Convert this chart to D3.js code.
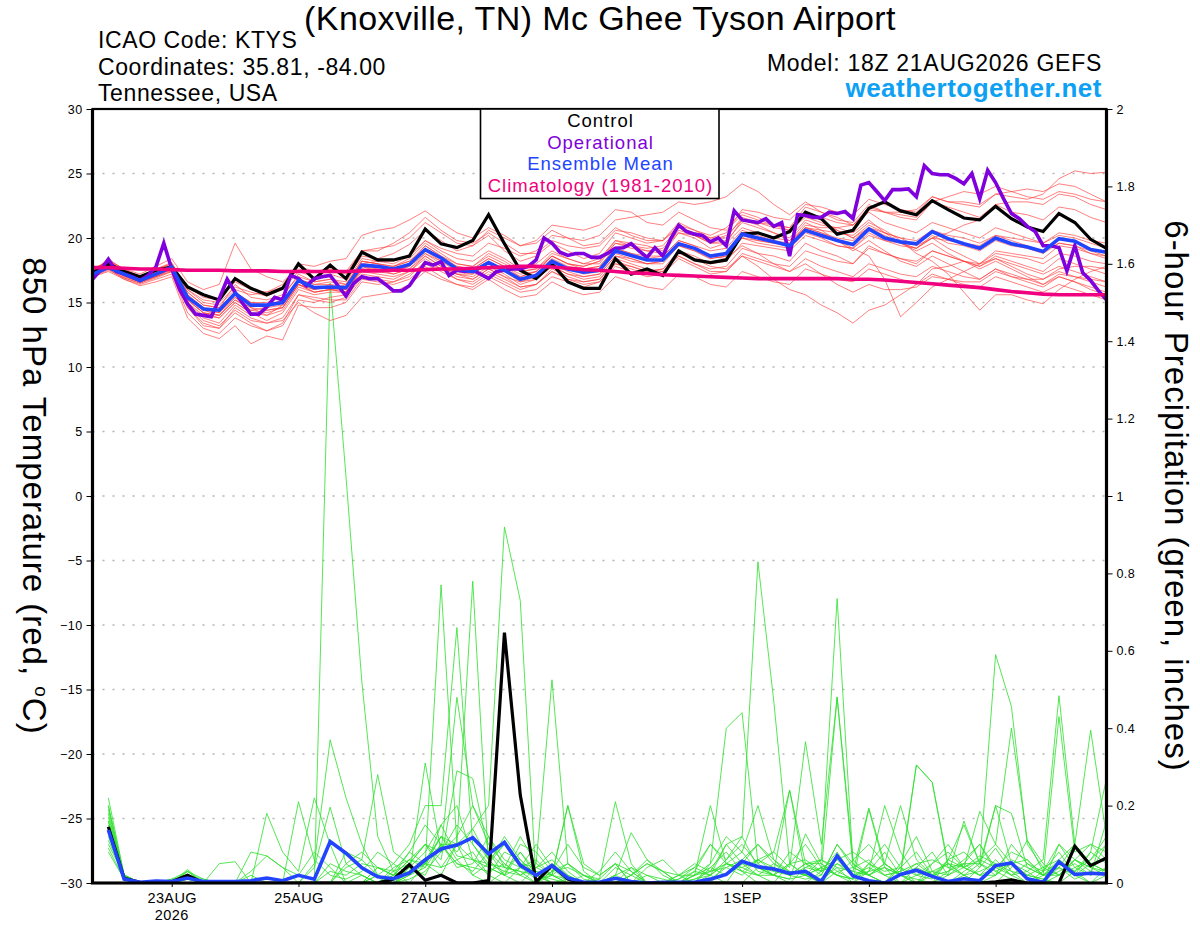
<!DOCTYPE html>
<meta charset="utf-8">
<body style="margin:0; background:#fff;">
<script src="https://d3js.org/d3.v7.min.js"></script>
<div id="meteogram"></div>
<script>
// run start (18Z 21AUG2026), data every 6 h, operational every 3 h
const runStart = Date.UTC(2026, 7, 21, 18);
const tickDays = ["2026-08-23", "2026-08-25", "2026-08-27", "2026-08-29", "2026-09-01", "2026-09-03", "2026-09-05"];
const tickLabels = ["23AUG", "25AUG", "27AUG", "29AUG", "1SEP", "3SEP", "5SEP"];
const tempTicks = [-30, -25, -20, -15, -10, -5, 0, 5, 10, 15, 20, 25, 30];
const precipTicks = [0, 0.2, 0.4, 0.6, 0.8, 1, 1.2, 1.4, 1.6, 1.8, 2];

// 850 hPa temperature (C)
const control = [
  17.3,18.0,17.4,17.0,17.5,17.75,16.2,15.6,15.2,16.85,
  16.1,15.6,16.1,18.0,16.8,17.9,16.85,18.9,18.3,18.3,
  18.6,20.7,19.55,19.25,19.8,21.8,19.56,17.5,16.85,18.0,
  16.6,16.1,16.1,18.4,17.2,17.6,17.1,19.0,18.3,18.1,
  18.3,20.3,20.4,20.0,20.5,22.0,21.5,20.3,20.6,22.3,
  22.8,22.1,21.8,22.9,22.2,21.55,21.4,22.45,21.5,20.85,
  20.5,21.9,21.2,19.9,19.2];
const ensMean = [
  17.2,17.7,17.2,16.7,17.2,17.75,15.4,14.5,14.4,15.7,
  14.8,14.8,15.0,16.7,16.15,16.2,16.15,17.9,17.8,17.6,
  17.95,19.1,18.45,17.6,17.4,18.1,17.5,16.8,17.1,18.2,
  17.6,17.35,17.5,19.0,18.65,18.3,18.3,19.56,19.2,18.6,
  18.8,20.3,20.0,19.7,19.4,20.6,20.2,19.8,19.5,20.7,
  20.0,19.7,19.55,20.5,19.95,19.55,19.2,20.0,19.55,19.3,
  18.95,19.95,19.75,19.1,18.9];
const climatology = [
  17.7,17.7,17.65,17.6,17.6,17.55,17.5,17.5,17.5,17.45,
  17.45,17.45,17.4,17.4,17.4,17.4,17.4,17.45,17.45,17.5,
  17.5,17.55,17.6,17.6,17.65,17.7,17.75,17.8,17.8,17.75,
  17.65,17.55,17.5,17.4,17.3,17.25,17.15,17.1,17.05,17.0,
  16.95,16.9,16.85,16.85,16.85,16.85,16.85,16.85,16.8,16.8,
  16.75,16.65,16.55,16.45,16.35,16.25,16.15,16.0,15.85,15.75,
  15.65,15.6,15.6,15.6,15.6];
const operational = [
  16.8,17.5,18.35,17.4,17.2,17.0,16.7,17.1,17.75,19.6,
  17.6,16.0,14.9,14.1,14.0,13.9,15.3,16.8,15.8,14.9,
  14.1,14.1,14.65,15.4,15.2,17.1,16.85,16.3,16.85,17.0,
  17.1,16.3,15.5,16.5,17.0,16.85,16.85,16.4,15.9,15.9,
  16.3,17.2,18.1,17.9,18.15,17.1,17.5,17.4,17.5,17.2,
  16.85,17.4,17.5,17.6,17.6,17.8,18.3,20.0,19.6,18.9,
  18.65,18.8,18.8,18.5,18.5,18.8,19.2,19.25,19.56,19.0,
  18.5,19.25,18.6,19.95,21.0,20.5,20.3,20.2,19.7,20.0,
  19.4,22.1,21.4,21.3,21.2,21.5,20.9,21.2,18.6,21.8,
  21.75,21.6,21.6,22.0,21.9,22.05,21.5,24.1,24.3,23.6,
  22.9,23.75,23.75,23.8,23.2,25.6,25.0,24.9,24.9,24.6,
  24.2,25.0,23.05,25.25,24.3,23.05,21.9,21.5,20.9,20.5,
  19.4,19.4,19.25,17.45,19.4,17.3,16.7,15.9,15.2];

// ensemble members, 850 hPa temperature
const t01 = [17.5,18.2,17.4,16.9,17.6,18.0,16.0,15.2,15.0,16.2, 15.8,15.5,16.0,17.4,17.0,17.2,16.8,18.6,18.4,18.8, 19.5,20.6,19.8,19.0,19.4,20.2,19.0,18.2,18.6,19.6, 19.0,18.4,18.8,20.4,20.0,19.6,19.8,21.2,20.6,20.2, 20.8,22.0,21.6,21.0,20.8,22.4,22.0,21.4,21.2,22.6, 22.0,21.6,21.4,22.8,22.4,22.0,21.6,22.6,22.0,21.8, 21.4,22.4,22.2,21.6,21.2];
const t02 = [17.0,17.6,16.8,16.4,16.8,17.2,14.2,13.0,12.6,13.8, 13.2,12.8,13.4,15.6,15.2,15.0,15.4,17.0,16.8,16.6, 17.2,18.0,17.4,16.8,16.4,17.2,16.6,16.0,16.4,17.4, 16.8,16.6,16.8,18.2,17.8,17.4,17.6,18.6,18.0,17.6, 17.8,19.2,18.8,18.6,18.2,19.6,19.0,18.6,18.0,19.4, 18.8,18.4,18.0,19.0,18.6,18.2,17.8,18.6,18.2,17.8, 17.4,18.4,18.0,17.6,17.2];
const t03 = [17.2,17.8,17.0,16.6,17.0,17.6,15.0,13.8,13.4,14.8, 14.0,14.4,14.6,16.4,16.0,16.4,15.8,17.8,17.4,17.8, 18.4,19.6,18.8,18.0,17.8,18.8,18.2,17.4,17.6,18.8, 18.4,18.0,18.0,19.6,19.4,19.0,18.8,20.4,20.0,19.2, 19.6,21.4,21.0,20.4,19.8,21.2,20.6,19.8,19.0,19.8, 19.0,18.2,17.8,18.6,18.0,17.4,16.8,17.6,17.0,16.6, 16.2,17.0,16.6,16.0,15.6];
const t04 = [17.4,18.0,17.3,16.8,17.3,17.9,15.6,14.6,14.2,15.4, 14.6,14.0,14.8,16.6,16.2,16.0,16.4,18.2,18.0,17.6, 18.0,19.4,18.6,17.8,17.6,18.4,17.8,17.0,17.4,18.6, 18.0,17.8,18.2,19.8,19.4,19.2,19.4,20.8,20.4,20.0, 20.4,22.2,22.0,21.6,21.4,22.6,22.4,22.0,21.8,23.0, 22.6,22.2,22.0,23.2,22.8,22.6,22.4,23.4,23.2,23.0, 23.4,24.6,25.2,25.0,25.1];
const t05 = [17.1,17.7,17.1,16.6,17.1,17.6,15.2,14.2,14.0,15.2, 14.4,14.6,14.8,16.4,15.8,16.0,15.8,17.6,17.6,17.2, 17.6,18.8,18.0,17.2,17.0,17.8,17.2,16.4,16.8,17.8, 17.2,16.8,17.0,18.4,18.0,17.6,17.4,18.8,18.4,17.8, 17.6,18.6,17.8,16.8,16.0,15.6,14.8,14.2,13.4,14.4, 14.8,15.6,16.4,17.6,17.8,18.2,18.0,18.8,18.6,18.4, 18.0,18.8,18.6,18.2,18.0];
const t06 = [17.3,18.4,17.5,17.0,17.4,17.8,15.8,14.8,14.6,16.4, 15.4,15.2,15.6,17.0,16.6,16.8,16.6,18.4,18.2,18.2, 18.6,19.8,19.0,18.4,18.2,19.0,18.4,17.6,18.0,19.0, 18.4,18.0,18.4,19.8,19.6,19.4,19.0,20.6,20.2,19.6, 19.8,21.2,20.8,20.4,20.0,21.4,21.0,20.8,20.4,21.4, 20.4,19.6,19.0,19.6,18.8,18.2,17.6,18.2,17.6,17.0, 16.4,17.0,16.6,16.2,15.8];
const t07 = [17.0,17.4,16.8,16.3,16.6,17.0,13.8,12.6,12.2,13.2, 11.8,12.4,12.1,14.8,14.6,14.6,15.0,16.6,16.4,16.6, 17.0,18.2,17.6,17.2,16.8,17.6,17.0,16.6,16.8,17.8, 17.2,17.0,17.2,18.6,18.4,18.0,18.0,19.4,19.0,18.4, 18.6,20.0,19.6,19.4,19.2,20.4,20.0,19.4,19.2,20.4, 19.8,19.6,19.2,20.2,19.6,19.4,19.0,19.8,19.4,19.2, 18.8,19.6,19.4,18.8,18.6];
const t08 = [17.6,18.2,17.6,17.2,17.8,18.4,16.6,16.0,16.4,19.6, 17.6,17.0,16.6,17.8,17.4,17.6,17.2,19.0,19.0,19.6, 20.4,21.6,20.6,19.8,19.6,20.4,19.6,18.8,18.8,19.8, 19.4,19.2,19.4,20.6,20.4,20.0,19.8,21.0,20.6,20.0, 20.0,21.6,21.2,20.8,20.6,21.8,21.4,20.6,20.0,21.0, 20.4,20.0,19.4,20.0,19.2,18.6,18.0,18.4,17.8,17.2, 16.8,17.4,17.0,16.8,16.6];
const t09 = [17.2,17.9,17.2,16.8,17.2,17.7,15.4,14.4,14.2,15.6, 14.8,14.6,15.2,16.8,16.4,16.4,16.2,18.0,18.2,18.0, 18.6,19.8,19.2,18.8,18.6,19.6,19.2,18.6,19.0,20.2, 20.0,19.8,20.2,21.4,21.6,21.8,22.0,22.8,22.6,22.8, 23.2,24.2,23.6,22.6,21.8,22.8,22.0,21.6,21.0,22.0, 21.2,20.8,20.4,21.2,20.8,20.4,20.0,20.8,20.4,20.0, 19.6,20.2,20.0,19.6,19.2];
const t10 = [17.1,17.6,16.9,16.5,16.9,17.4,14.8,13.6,13.2,14.4, 13.6,13.4,13.8,15.6,15.4,15.2,15.2,16.8,16.6,16.4, 16.8,17.8,17.0,16.4,16.0,16.8,16.0,15.4,15.6,16.6, 16.0,15.6,15.8,17.0,16.6,16.2,16.0,17.2,17.0,16.4, 16.2,17.4,17.0,16.6,16.4,17.6,17.2,16.8,16.6,17.6, 17.2,16.8,16.4,17.2,16.8,16.4,16.2,17.0,16.6,16.2, 15.8,16.4,16.0,15.6,15.2];
const t11 = [17.4,18.1,17.4,16.9,17.4,17.9,15.8,14.8,14.6,15.8, 15.0,15.0,15.4,17.2,16.6,16.8,16.4,18.2,18.0,17.8, 18.2,19.2,18.4,17.8,17.6,18.4,17.8,17.2,17.4,18.4, 17.8,17.6,17.8,19.2,18.8,18.4,18.6,19.8,19.4,19.0, 19.2,20.6,20.2,19.8,19.6,20.8,20.4,19.8,19.2,18.6, 16.8,13.9,15.0,16.2,16.8,17.4,18.0,19.0,18.8,18.6, 18.4,19.4,19.2,18.8,18.4];
const t12 = [17.3,17.9,17.2,16.7,17.2,17.7,15.2,14.2,14.0,15.2, 14.6,14.4,14.6,16.4,15.8,16.0,16.0,17.6,17.4,17.4, 17.8,18.8,18.2,17.6,17.4,18.0,17.4,16.8,17.2,18.2, 17.6,17.2,17.4,18.8,18.4,18.0,18.2,19.6,19.2,18.6, 18.8,20.2,19.8,19.6,19.4,20.8,20.6,20.4,20.2,21.2, 20.6,19.8,18.8,18.2,17.2,15.8,14.4,15.6,15.6,15.2, 14.9,16.0,16.8,17.4,17.8];
const t13 = [17.5,18.3,17.6,17.0,17.5,18.0,16.2,15.4,15.2,16.6, 16.0,15.8,16.2,17.6,17.4,17.6,17.4,19.0,19.2,19.4, 20.0,21.2,20.4,19.6,19.4,20.6,20.0,19.4,19.8,21.0, 20.8,20.6,21.0,22.2,22.0,21.2,21.0,22.0,21.4,20.8, 20.6,21.8,21.4,21.0,20.8,22.0,21.6,21.2,21.0,22.4, 22.0,21.8,21.6,22.8,23.2,23.6,23.4,24.0,23.6,23.2, 23.0,23.6,23.4,23.0,22.8];
const t14 = [17.0,17.5,16.9,16.5,17.0,17.5,14.6,13.4,13.0,14.2, 13.4,12.8,13.2,15.2,15.0,15.4,15.6,17.2,17.0,16.8, 17.4,18.6,17.8,17.0,16.8,17.6,17.0,16.2,16.4,17.4, 16.8,16.4,16.6,18.0,17.8,17.4,17.6,19.0,18.6,18.0, 18.2,19.6,19.4,19.2,19.0,20.2,19.8,19.4,19.2,20.2, 19.8,19.4,19.2,20.0,19.8,19.6,19.4,20.2,20.0,19.8, 19.6,20.4,20.2,19.8,19.6];
const t15 = [17.3,18.0,17.3,16.8,17.3,17.8,15.4,14.4,14.0,15.4, 14.4,14.2,14.6,16.4,16.0,16.2,16.0,17.8,17.6,17.4, 17.8,19.0,18.2,17.4,17.2,18.0,17.4,16.6,17.0,18.0, 17.4,17.0,17.2,18.6,18.2,18.0,18.2,19.4,19.0,18.4, 18.6,20.0,19.8,19.6,19.6,21.0,20.8,20.8,21.0,22.2, 22.0,22.0,22.2,23.2,22.8,22.8,22.6,23.4,23.6,23.8, 23.6,24.2,24.0,23.4,22.8];
const t16 = [17.2,17.8,17.1,16.6,17.1,17.6,15.0,14.0,13.8,15.0, 14.2,13.6,14.2,16.0,15.6,15.8,15.8,17.4,17.2,17.0, 17.4,18.4,17.6,16.8,16.6,17.4,16.8,16.2,16.4,17.6, 17.0,16.6,16.8,18.0,17.6,17.2,17.4,18.6,18.0,17.4, 17.4,18.6,18.2,17.8,17.4,18.4,17.8,17.4,17.0,18.0, 17.6,17.2,17.0,17.8,17.4,17.0,16.8,17.6,17.2,16.8, 16.4,17.2,17.0,16.6,16.2];
const t17 = [17.1,17.7,17.0,16.6,17.0,17.4,14.6,13.2,13.0,14.6, 13.8,13.4,13.6,15.0,14.2,13.6,14.0,15.4,15.6,15.8, 16.4,17.4,16.8,16.4,16.2,17.0,16.4,15.8,16.0,17.0, 16.6,16.2,16.6,17.8,17.4,17.0,17.2,18.4,17.8,17.2, 17.4,18.8,18.4,18.0,17.8,19.0,18.6,18.2,18.0,19.2, 18.8,18.4,18.2,19.0,18.6,18.2,17.8,18.4,18.0,17.6, 17.2,17.8,17.4,17.0,16.6];
const t18 = [17.5,18.2,17.5,17.0,17.6,18.1,16.0,15.0,14.8,16.0, 15.6,15.8,16.4,18.0,17.8,18.2,18.4,20.2,20.6,20.8, 21.4,22.1,21.2,20.4,20.0,20.8,20.2,19.4,19.6,20.6, 20.0,19.4,19.6,20.8,20.2,19.8,19.8,20.8,20.2,19.6, 19.6,20.8,20.4,20.0,19.8,20.8,20.4,20.0,19.8,20.8, 20.4,20.0,19.8,20.6,20.2,20.0,19.6,20.2,19.8,19.4, 19.0,19.6,19.4,19.0,18.6];
const t19 = [17.2,17.8,17.1,16.7,17.1,17.6,15.2,14.2,13.8,15.0, 14.2,14.0,14.4,16.2,15.8,16.0,15.8,17.6,17.4,17.2, 17.6,18.6,17.8,17.2,17.2,18.0,17.6,17.0,17.4,18.6, 18.0,17.8,18.2,19.6,19.2,19.0,19.2,20.4,20.2,19.8, 20.2,21.4,21.2,21.0,20.6,21.6,21.2,20.6,20.0,20.8, 20.2,19.6,19.2,20.0,20.4,21.0,21.4,22.6,22.8,22.8, 22.6,23.4,23.2,22.6,22.2];
const t20 = [17.4,18.0,17.3,16.8,17.3,17.8,15.6,14.6,14.4,15.8, 15.0,14.8,15.2,16.8,16.4,16.6,16.4,18.2,18.0,17.8, 18.2,19.4,18.6,18.0,17.8,18.6,18.0,17.4,17.6,18.6, 18.0,17.6,17.8,19.2,18.8,18.6,18.6,19.8,19.4,18.6, 18.4,19.4,18.8,18.0,17.4,18.0,17.2,16.4,15.8,16.4, 16.0,16.0,16.2,17.0,16.8,16.6,16.6,17.4,17.0,16.8, 16.8,17.6,17.8,17.8,17.6];
const tempMembers = [t01, t02, t03, t04, t05, t06, t07, t08, t09, t10, t11, t12, t13, t14, t15, t16, t17, t18, t19, t20];

// 6-hour precipitation (inches), first value ends 00Z 22AUG
const ctlPrecip = [
  .145,.012,.002,0,.003,.02,0,0, 0,0,0,0,0,0,0,0,
  0,0,.01,.047,.007,.02,0,0, .006,.647,.227,.003,.045,.01,0,0,
  0,0,0,0,0,0,0,0, 0,0,0,0,0,0,0,0,
  0,0,0,0,0,0,0,0, .003,.008,0,0,0,.095,.045,.065];
const meanPrecip = [
  .137,.01,.002,.005,.004,.013,.004,.004, .004,.006,.013,.006,.02,.01,.107,.077,
  .039,.016,.011,.026,.06,.088,.098,.117, .075,.105,.046,.02,.045,.013,.002,.002,
  .012,.004,0,.002,.002,.002,.01,.022, .056,.042,.036,.025,.03,.004,.07,.018,
  .006,0,.022,.033,.017,.004,.011,.006, .045,.052,.011,.002,.055,.022,.025,.023];
const p01 = [.15,.01,0,0,0,.02,0,0, 0,0,0,0,0,0,1.55,1.05, .52,.12,.03,0,.05,.12,.06,.02, 0,.03,.08,.02,0,0,0,0, .02,0,0,0,.01,.04,.1,.06, .12,.04,.02,0,0,.03,.08,.02, 0,0,.05,.12,.03,0,0,.04, .09,.03,0,0,.02,.06,.03,.02];
const p02 = [.2,.01,0,0,0,.01,0,0, 0,0,0,0,0,.05,.37,.22, .1,.02,0,.04,.08,.15,.2,.06, .02,0,.04,.1,.04,0,0,.01, .05,.03,0,0,0,.02,.04,.08, .03,0,0,.05,.1,.04,.02,0, .03,.08,.02,0,0,.06,.15,.05, .02,.05,.01,0,.1,.04,.06,.12];
const p03 = [.12,.02,0,0,.01,.03,0,0, 0,0,0,0,0,0,0,0, 0,0,.02,.06,.05,.77,.1,.02, .05,.12,.06,.02,.01,0,0,0, 0,0,0,0,0,.01,.03,.05, .08,.2,.06,.02,.01,.02,.1,.05, .02,0,0,.04,.02,0,.03,.06, .1,.05,.02,.01,0,.03,.08,.05];
const p04 = [.18,.01,0,0,0,.02,.01,0, 0,0,0,0,0,0,0,0, 0,.02,.05,.1,.2,.2,.66,.1, .04,.02,.08,.03,0,0,.02,.01, .21,.05,0,0,0,0,.02,.1, .05,.02,0,0,.04,.06,.03,.01, .05,.1,.04,0,0,.02,.05,.1, .03,.01,0,.02,.05,.02,0,.04];
const p05 = [.1,.02,0,0,0,.03,0,0, 0,.03,.07,.04,.02,.08,.04,0, 0,.04,.02,.08,.15,.1,.1,.78, .05,.1,.04,.06,.02,.2,.03,0, 0,.04,.02,0,0,0,0,.05, .03,.06,.08,.24,.05,.02,.1,.04, .06,.02,0,0,.02,.05,.02,0, 0,.04,.11,.05,.02,.06,.1,.08];
const p06 = [.14,.02,0,0,0,.02,0,0, 0,0,0,0,0,0,0,0, 0,0,0,.03,.06,.12,.1,.14, .2,.92,.73,0,.03,.04,.02,0, 0,.02,.05,.03,0,0,0,0, .06,.04,.03,.02,.05,.05,.02,.01, .19,.04,0,0,.03,.02,.04,.07, .05,.02,.03,0,.04,.01,.03,.1];
const p07 = [.22,.02,0,0,0,.01,0,0, 0,0,0,0,0,0,0,0, .02,0,0,.01,.03,.08,.15,.1, .05,.03,.02,.05,.525,.05,.01,0, .02,.13,.06,.02,0,0,.05,.12, .08,.03,.02,.05,.02,0,.05,.03, .02,.05,.2,.06,.02,0,.02,.05, .2,.18,.04,.02,.06,.03,0,.02];
const p08 = [.16,.01,0,0,0,.03,.01,0, 0,0,.18,.08,.03,.22,.1,0, 0,0,0,.02,.31,.08,.48,.2, .1,.05,.02,0,.03,.1,.04,.02, .05,0,0,0,.02,.04,.02,0, 0,.04,.02,.08,.05,.03,.48,.06, .02,0,0,.02,.05,.1,.04,.02, .06,.02,0,.03,.08,.02,.05,.03];
const p09 = [.11,.02,0,0,.01,.02,0,.05, .055,0,0,0,0,0,0,.08, .06,.28,.08,.05,.1,.06,.29,.27, .08,.04,.12,.05,.02,0,0,.03, .08,.03,0,0,0,0,.04,.02, .05,.1,.06,.03,.02,.06,.04,0, .05,.02,.03,.305,.26,.05,.02,0, .02,.06,.04,.02,.04,.1,.05,.06];
const p10 = [.13,.01,0,0,0,.02,0,0, 0,0,0,0,0,0,0,0, 0,0,.02,.04,.02,.1,.04,.05, .12,.04,.03,.02,.05,.02,0,0, 0,0,.02,.01,0,.02,.03,.1, .12,.83,.47,.05,.02,0,.03,.04, .02,0,.04,.08,.02,.03,.05,.02, .04,.08,.06,.02,.02,.04,.02,.16];
const p11 = [.19,.01,0,0,0,.02,0,0, 0,.02,0,0,.21,.06,.02,.01, .03,.08,.05,.02,.05,.12,.08,.14, .06,.02,0,.04,.08,.03,0,0, 0,0,.04,.06,.02,.02,.05,.4, .44,.05,.02,.01,.02,.04,.02,.06, .1,.05,.02,.01,0,.03,.06,.1, .04,.02,.05,.03,.1,.06,.04,.02];
const p12 = [.17,.02,0,0,0,.01,0,0, 0,0,0,0,0,0,.05,.03, .02,0,.04,.06,.1,.04,.06,.08, .02,.08,.06,.02,0,.01,0,0, 0,.02,.06,.03,.02,0,.01,.04, .02,.06,.04,.02,.05,.06,.735,.05, .02,.04,.02,0,.05,.08,.04,.02, .02,.1,.05,.02,.04,.02,.08,.27];
const p13 = [.09,.01,0,0,0,.02,0,0, 0,0,0,0,0,.04,.196,.05, .02,0,.03,.08,.05,.04,.1,.12, .06,.1,.05,.04,.06,.02,0,0, .04,.02,0,0,0,.01,.02,.06, .1,.05,.08,.04,.365,.1,.48,.04, .02,.05,.02,.04,.08,.02,.16,.05, .03,.05,.02,.04,.06,.1,.395,.12];
const p14 = [.14,.02,0,0,0,.035,0,0, 0,0,0,0,0,0,0,.04, .06,.02,0,.02,.04,.15,.07,.06, .04,.02,.1,.08,.03,.05,.02,0, .02,.04,0,0,.01,.03,.1,.05, .04,.06,.03,.24,.02,.01,.04,.03, .194,.05,.02,.305,.26,.04,.02,.03, .05,.03,.02,.01,.03,.05,.02,.04];
const p15 = [.16,.02,0,0,0,.02,0,0, 0,.08,.07,.04,0,0,0,0, 0,.04,.02,.03,.05,.1,.05,.04, .03,.05,.02,.04,.02,.01,0,0, 0,.02,.05,.03,0,.02,.2,.05, .03,.02,.02,.05,.06,.03,.05,.02, .03,.04,.02,.05,.06,.04,.05,.05, .59,.456,.1,.04,.02,.06,.04,.03];
const p16 = [.13,.01,0,0,0,.02,0,0, 0,0,0,0,0,0,0,0, 0,.02,0,.03,.05,.02,.1,.06, .05,.04,.03,0,.02,.2,.05,.02, .05,0,0,0,0,0,.01,.02, .05,.04,.02,.01,.127,.05,.02,.01, .03,.2,.08,.02,.01,.06,.04,.185, .1,.4,.11,.03,.05,.03,.06,.1];
const p17 = [.2,.02,0,0,0,.01,0,0, 0,0,0,0,0,0,0,.05, .08,.04,.03,.05,.1,.08,.12,.2, .12,.06,.04,.03,.02,0,0,0, 0,0,0,0,.02,.05,.03,.04, .06,.1,.05,.02,.04,.03,.06,.02, .04,.02,.03,.05,.02,.06,.08,.04, .2,.05,.03,.06,.484,.1,.05,.03];
const p18 = [.08,.01,0,0,0,.02,0,0, 0,0,0,0,0,0,.03,.02, .05,.04,.02,.06,.04,.1,.05,.03, .08,.02,.04,.01,.02,.05,.02,0, 0,0,0,0,0,.03,.02,.05, .04,.02,.05,.03,.02,.04,.06,.08, .05,.03,.04,.02,.03,.05,.04,.06, .04,.05,.06,.02,.43,.08,.1,.06];
const precipMembers = [p01, p02, p03, p04, p05, p06, p07, p08, p09, p10, p11, p12, p13, p14, p15, p16, p17, p18];

const font = "'Liberation Sans', Arial, Helvetica, sans-serif";
const hour = 3600 * 1000;
const pL = 92.5, pR = 1106.5, pT = 109, pB = 883;

const svg = d3.select("#meteogram").append("svg")
    .attr("width", 1200)
    .attr("height", 927)
    .style("font-family", font)
    .style("display", "block");

const x = d3.scaleUtc()
    .domain([new Date(runStart), new Date(runStart + 384 * hour)])
    .range([pL, pR]);
const yT = d3.scaleLinear().domain([-30, 30]).range([pB, pT]);
const yP = d3.scaleLinear().domain([0, 2]).range([pB, pT]);

// dotted grid
svg.append("g")
    .selectAll("line")
    .data(tempTicks.filter(d => d > -30 && d < 30))
    .join("line")
    .attr("x1", pL).attr("x2", pR)
    .attr("y1", d => yT(d)).attr("y2", d => yT(d))
    .attr("stroke", "#b4b4b4")
    .attr("stroke-width", 1.6)
    .attr("stroke-dasharray", "2,8");

svg.append("clipPath").attr("id", "plotclip")
    .append("rect")
    .attr("x", pL).attr("y", pT)
    .attr("width", pR - pL).attr("height", pB - pT);

const plot = svg.append("g").attr("clip-path", "url(#plotclip)");

const line6 = d3.line().x((d, i) => x(new Date(runStart + i * 6 * hour))).y(d => yT(d));
const line3 = d3.line().x((d, i) => x(new Date(runStart + i * 3 * hour))).y(d => yT(d));
const rain = d3.line().x((d, i) => x(new Date(runStart + (i + 1) * 6 * hour))).y(d => yP(d));

plot.selectAll("path.pmem")
    .data(precipMembers)
    .join("path")
    .attr("class", "pmem")
    .attr("d", rain)
    .attr("fill", "none")
    .attr("stroke", "#2ee02e")
    .attr("stroke-width", 0.9)
    .attr("stroke-opacity", 0.9);

plot.selectAll("path.tmem")
    .data(tempMembers)
    .join("path")
    .attr("class", "tmem")
    .attr("d", line6)
    .attr("fill", "none")
    .attr("stroke", "#ff3b3b")
    .attr("stroke-width", 0.9)
    .attr("stroke-opacity", 0.72);

plot.append("path").attr("d", rain(ctlPrecip))
    .attr("fill", "none").attr("stroke", "#000").attr("stroke-width", 3.2);
plot.append("path").attr("d", rain(meanPrecip))
    .attr("fill", "none").attr("stroke", "#2244ff").attr("stroke-width", 3.6);

plot.append("path").attr("d", line6(control))
    .attr("fill", "none").attr("stroke", "#000").attr("stroke-width", 3.2);
plot.append("path").attr("d", line3(operational))
    .attr("fill", "none").attr("stroke", "#7f00dc").attr("stroke-width", 3.6);
plot.append("path").attr("d", line6(ensMean))
    .attr("fill", "none").attr("stroke", "#2244ff").attr("stroke-width", 3.6);
plot.append("path").attr("d", line6(climatology))
    .attr("fill", "none").attr("stroke", "#f0007e").attr("stroke-width", 3.6);

// axes
const axisL = svg.append("g")
    .attr("transform", `translate(${pL},0)`)
    .call(d3.axisLeft(yT).tickValues(tempTicks).tickSize(6).tickPadding(4));
const axisR = svg.append("g")
    .attr("transform", `translate(${pR},0)`)
    .call(d3.axisRight(yP).tickValues(precipTicks).tickSize(6).tickPadding(4)
        .tickFormat(d => String(+d.toFixed(1))));
const axisB = svg.append("g")
    .attr("transform", `translate(0,${pB})`)
    .call(d3.axisBottom(x).tickValues(tickDays.map(d => new Date(d + "T00:00:00Z")))
        .tickSize(4).tickPadding(6).tickFormat((d, i) => tickLabels[i]));

[axisL, axisR, axisB].forEach(g => {
    g.select(".domain").remove();
    g.attr("font-family", font);
    g.selectAll("text").attr("font-size", 12.5).attr("fill", "#000").attr("letter-spacing", 0.4);
});
axisB.selectAll("text").attr("font-size", 14.5);

svg.append("text")
    .attr("x", x(new Date(tickDays[0] + "T00:00:00Z")))
    .attr("y", 920)
    .attr("text-anchor", "middle")
    .attr("font-size", 14.5)
    .attr("letter-spacing", 0.4)
    .text("2026");

// frame
svg.append("rect")
    .attr("x", pL).attr("y", pT)
    .attr("width", pR - pL).attr("height", pB - pT)
    .attr("fill", "none").attr("stroke", "#000").attr("stroke-width", 2.2);
svg.append("path")
    .attr("d", `M${pL},${pT}V${pB}H${pR}V${pT}`)
    .attr("fill", "none").attr("stroke", "#000").attr("stroke-width", 3.2);

// legend
svg.append("rect")
    .attr("x", 480.5).attr("y", 109).attr("width", 238.5).attr("height", 89.5)
    .attr("fill", "#fff").attr("stroke", "#000").attr("stroke-width", 1.6);
const legendItems = [
    ["Control", "#000"],
    ["Operational", "#7f00dc"],
    ["Ensemble Mean", "#2244ff"],
    ["Climatology (1981-2010)", "#f0007e"]
];
svg.append("g").selectAll("text")
    .data(legendItems)
    .join("text")
    .attr("x", 600.5)
    .attr("y", (d, i) => 127 + i * 21.5)
    .attr("text-anchor", "middle")
    .attr("font-size", 18.5)
    .attr("letter-spacing", 1)
    .attr("fill", d => d[1])
    .text(d => d[0]);

// titles
svg.append("text")
    .attr("x", 600).attr("y", 30)
    .attr("text-anchor", "middle")
    .attr("font-size", 34)
    .attr("letter-spacing", 0.4)
    .text("(Knoxville, TN) Mc Ghee Tyson Airport");

const info = ["ICAO Code: KTYS", "Coordinates: 35.81, -84.00", "Tennessee, USA"];
svg.append("g").selectAll("text")
    .data(info)
    .join("text")
    .attr("x", 98)
    .attr("y", (d, i) => 48 + i * 26.5)
    .attr("font-size", 23)
    .attr("letter-spacing", 0.6)
    .text(d => d);

svg.append("text")
    .attr("x", 1102).attr("y", 71)
    .attr("text-anchor", "end")
    .attr("font-size", 23)
    .attr("letter-spacing", 0.72)
    .text("Model: 18Z 21AUG2026 GEFS");
svg.append("text")
    .attr("x", 1102).attr("y", 97)
    .attr("text-anchor", "end")
    .attr("font-size", 26)
    .attr("font-weight", "bold")
    .attr("letter-spacing", 0.5)
    .attr("fill", "#0ea0f2")
    .text("weathertogether.net");

const yTitle = svg.append("text")
    .attr("transform", "translate(23,496) rotate(90)")
    .attr("text-anchor", "middle")
    .attr("font-size", 33)
    .attr("letter-spacing", 1);
yTitle.append("tspan").text("850 hPa Temperature (red, ");
yTitle.append("tspan").attr("font-size", 19).attr("dy", -12).text("o");
yTitle.append("tspan").attr("dy", 12).text("C)");

svg.append("text")
    .attr("transform", "translate(1165,496) rotate(90)")
    .attr("text-anchor", "middle")
    .attr("font-size", 33)
    .attr("letter-spacing", 1)
    .text("6-hour Precipitation (green, inches)");
</script>
</body>
